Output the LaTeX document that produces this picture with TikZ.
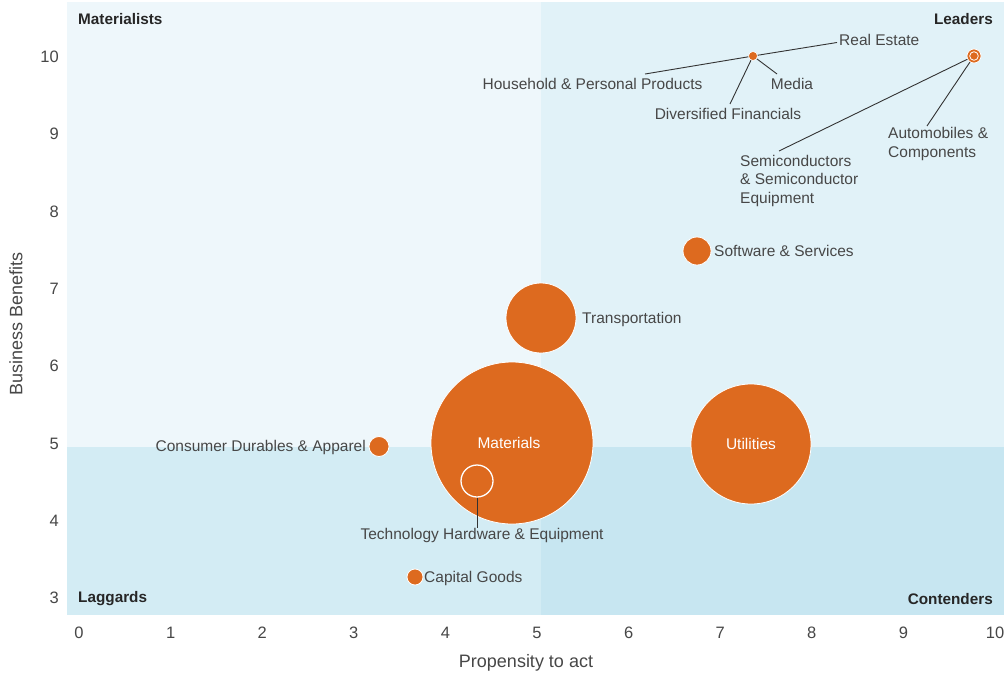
\documentclass[tikz,border=0pt]{standalone}
\usepackage{fontspec}
\setmainfont{Liberation Sans}
\definecolor{qa}{HTML}{EEF7FB}
\definecolor{qb}{HTML}{E1F2F8}
\definecolor{qc}{HTML}{D3ECF4}
\definecolor{qd}{HTML}{C7E6F1}
\definecolor{bub}{HTML}{DD6A1F}
\definecolor{txt}{HTML}{474747}
\definecolor{lead}{HTML}{333333}
\tikzset{
  bubble/.style={circle, fill=bub, draw=white, line width=0.8pt, inner sep=0pt, text=white, font=\fontsize{15.5}{18}\selectfont},
  lbl/.style={inner sep=0pt, text=txt, font=\fontsize{15.5}{18}\selectfont},
  quad/.style={inner sep=0pt, text=black!85, font=\fontsize{15.3}{18}\selectfont\bfseries},
  tick/.style={inner sep=0pt, text=txt, font=\fontsize{16.5}{19}\selectfont},
  atitle/.style={inner sep=0pt, text=txt, font=\fontsize{18}{21}\selectfont},
  leader/.style={draw=lead, line width=0.9pt}
}
\begin{document}
\begin{tikzpicture}[x=1pt,y=-1pt]
\useasboundingbox (0,0) rectangle (1007,675);
\fill[white] (0,0) rectangle (1007,675);
% quadrants
\fill[qa] (67,2) rectangle (541,447);
\fill[qb] (541,2) rectangle (1004,447);
\fill[qc] (67,447) rectangle (541,615);
\fill[qd] (541,447) rectangle (1004,615);
% quadrant labels
\node[quad, anchor=west] (qml) at (78,19) {Materialists};
\node[quad, anchor=east] (qle) at (993,19) {Leaders};
\node[quad, anchor=west] (qla) at (78,599) {Laggards};
\node[quad, anchor=east] (qco) at (993,599) {Contenders};
% ticks
\foreach \i in {0,...,10} {
  \node[tick] (xt\i) at ({79+91.6*\i},633) {\i};
}
\foreach \v in {3,...,10} {
  \node[tick, anchor=east] (yt\v) at (59,{57+(10-\v)*77.3}) {\v};
}
\node[atitle] (xtitle) at (526,663) {Propensity to act};
\node[atitle, rotate=90] (ytitle) at (16,324) {Business Benefits};
% bubbles
\node[bubble, minimum size=162pt] (mat) at (512,443) {};
\node[inner sep=0pt, text=white, font=\fontsize{15.5}{18}\selectfont] (matl) at (509,443) {Materials};
\node[circle, draw=white, line width=1.3pt, minimum size=32pt, inner sep=0pt] (tech) at (477,481) {};
\node[lbl] (techl) at (482,535) {Technology Hardware \& Equipment};
\draw[leader] (tech.south) -- (tech.south |- techl.north);
\node[bubble, minimum size=70pt] (trans) at (541,318) {};
\node[lbl, anchor=west] (transl) at (582,319) {Transportation};
\node[bubble, minimum size=28pt] (soft) at (697,251) {};
\node[lbl, anchor=west] (softl) at (714,251) {Software \& Services};
\node[bubble, minimum size=120pt] (util) at (751,444) {Utilities};
\node[bubble, minimum size=20pt] (cons) at (379,446.5) {};
\node[lbl, anchor=east] (consl) at (366,447) {Consumer Durables \& Apparel};
\node[bubble, minimum size=16pt] (cap) at (415,577) {};
\node[lbl, anchor=west] (capl) at (424,578) {Capital Goods};
% cluster at (753,56)
\node[bubble, minimum size=9pt, line width=0.6pt] (clu) at (753,56) {};
\node[lbl, anchor=west] (rel) at (839,40) {Real Estate};
\node[lbl] (hhl) at (592.5,83.5) {Household \& Personal Products};
\node[lbl] (medl) at (792,83.5) {Media};
\node[lbl] (divl) at (728,113.5) {Diversified Financials};
\coordinate (reE) at (837,42.5);
\coordinate (hhE) at (645,74);
\coordinate (medE) at (777,74);
\coordinate (divE) at (730,104);
\draw[leader] (clu) -- (reE);
\draw[leader] (clu) -- (hhE);
\draw[leader] (clu) -- (medE);
\draw[leader] (clu) -- (divE);
% automobiles / semiconductors
\node[bubble, minimum size=14pt, line width=0.7pt] (auto) at (974,56) {};
\draw[white, line width=0.8pt] (974,56) circle (4.3);
\node[lbl, anchor=north west, align=left, font=\fontsize{15.5}{18.5}\selectfont] (semil) at (740,155) {Semiconductors\\\& Semiconductor\\Equipment};
\node[lbl, anchor=north west, align=left, font=\fontsize{15.5}{18.5}\selectfont] (autol) at (888,127.5) {Automobiles \&\\Components};
\coordinate (semiE) at (779,151);
\coordinate (autoE) at (927,126);
\draw[leader] (auto) -- (semiE);
\draw[leader] (auto) -- (autoE);
\end{tikzpicture}
\end{document}
